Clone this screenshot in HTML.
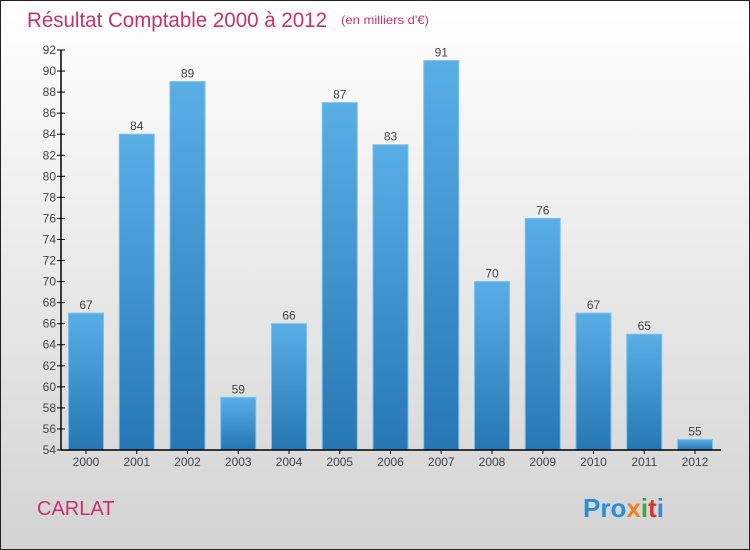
<!DOCTYPE html>
<html><head><meta charset="utf-8"><style>
body{margin:0}
#c{width:748px;height:548px;border:1px solid #222;background:linear-gradient(#fff,#d3d3d3);position:relative;overflow:hidden;font-family:"Liberation Sans",sans-serif}
</style></head><body>
<div id="c">
<svg id="s" width="748" height="548">
<defs><linearGradient id="g" x1="0" y1="0" x2="0" y2="1"><stop offset="0" stop-color="#5aaee6"/><stop offset="1" stop-color="#2677b3"/></linearGradient></defs>
<text x="26" y="26" font-size="21" fill="#c8326a" textLength="300" lengthAdjust="spacingAndGlyphs">Résultat Comptable 2000 à 2012</text>
<text x="340" y="23" font-size="12" fill="#c8326a" textLength="88" lengthAdjust="spacingAndGlyphs">(en milliers d'€)</text>
<text x="36" y="514" font-size="20" fill="#c8326a">CARLAT</text>
<text x="582" y="516" font-size="26" font-weight="bold"><tspan fill="#2a8fd6">Pro</tspan><tspan fill="#f08020">x</tspan><tspan fill="#3aa83a">i</tspan><tspan fill="#e03030">t</tspan><tspan fill="#2a8fd6">i</tspan></text>
<g id="plot"></g>
</svg>
</div>
<script>
const categories=["2000","2001","2002","2003","2004","2005","2006","2007","2008","2009","2010","2011","2012"];
const values=[67,84,89,59,66,87,83,91,70,76,67,65,55];
const yTicks=[54,56,58,60,62,64,66,68,70,72,74,76,78,80,82,84,86,88,90,92];
const NS="http://www.w3.org/2000/svg";
const yMin=54,yMax=92,plotTop=49,plotBot=449,plotLeft=60;
const y=v=>plotBot-(v-yMin)/(yMax-yMin)*(plotBot-plotTop);
const xc=i=>85+i*50.75;
const g=document.getElementById('plot');
function el(t,a){const e=document.createElementNS(NS,t);for(const k in a)e.setAttribute(k,a[k]);g.appendChild(e);return e;}
categories.forEach((c,i)=>{
 const b=el('rect',{x:xc(i)-17.5,y:y(values[i]),width:35,height:plotBot-y(values[i]),fill:'url(#g)',stroke:'#7cc0ee','stroke-width':1});
 
 
 const l=el('text',{x:xc(i),y:y(values[i])-4,'text-anchor':'middle','font-size':12,fill:'#444'});
 l.textContent=values[i];
 
 
 const t=el('text',{x:xc(i),y:plotBot+16,'text-anchor':'middle','font-size':12,fill:'#444'});
 t.textContent=c;
 
 
 const tk=el('line',{x1:xc(i),x2:xc(i),y1:plotBot,y2:plotBot+4,stroke:'#000'});
 
 
});
yTicks.forEach(v=>{
 const tk=el('line',{x1:plotLeft-4,x2:plotLeft+4,y1:y(v),y2:y(v),stroke:'#000'});
 
 
 const t=el('text',{x:plotLeft-5,y:y(v)+4,'text-anchor':'end','font-size':12,fill:'#444'});
 t.textContent=v;
 
 
});
const ya=el('line',{x1:plotLeft,x2:plotLeft,y1:plotTop,y2:plotBot,stroke:'#000','stroke-width':1.5});


const xa=el('line',{x1:plotLeft,x2:720,y1:plotBot,y2:plotBot,stroke:'#000','stroke-width':1.5});


</script>
</body></html>
